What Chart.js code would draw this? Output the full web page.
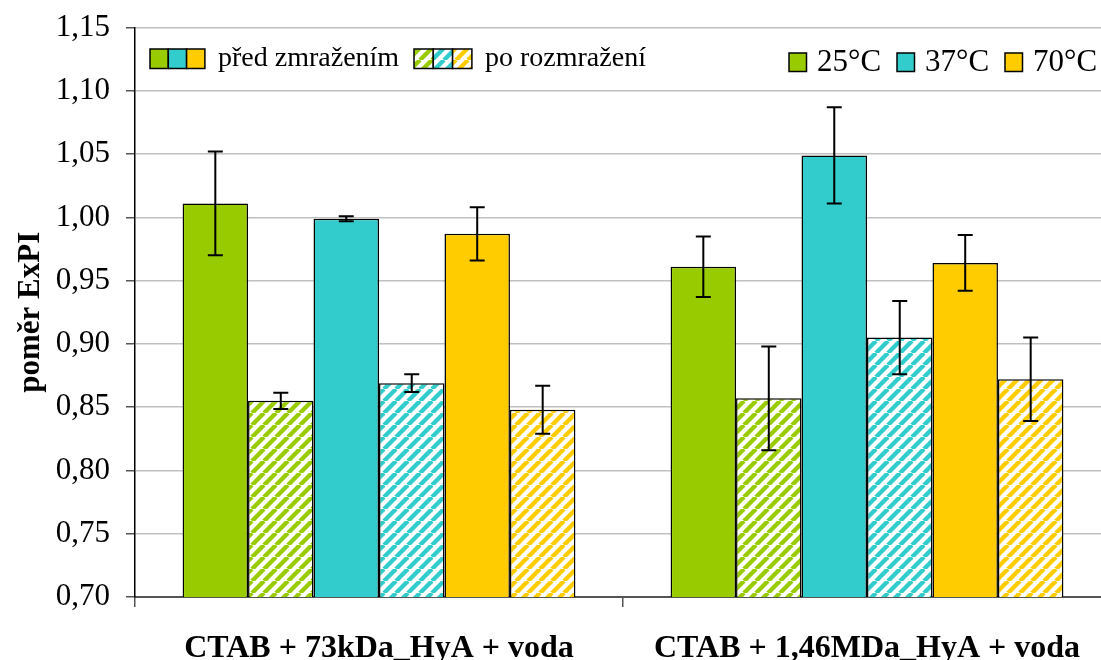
<!DOCTYPE html>
<html>
<head>
<meta charset="utf-8">
<script src="https://cdn.jsdelivr.net/npm/chart.js@4"></script>
<style>
  html, body { margin: 0; padding: 0; background: #fff; overflow: hidden; }
  #wrap { width: 1112px; height: 667px; margin-top: -7px; }
</style>
</head>
<body>
<div id="wrap"><canvas id="chart"></canvas></div>
<script>
// data
const categories = ['CTAB + 73kDa_HyA + voda', 'CTAB + 1,46MDa_HyA + voda'];
const temps = ['25°C', '37°C', '70°C'];
const before25 = [1.011, 0.961];
const after25 = [0.855, 0.857];
const before37 = [0.999, 1.049];
const after37 = [0.869, 0.905];
const before70 = [0.987, 0.964];
const after70 = [0.848, 0.872];
const errBefore25 = [0.041, 0.024];
const errAfter25 = [0.0065, 0.041];
const errBefore37 = [0.002, 0.038];
const errAfter37 = [0.007, 0.029];
const errBefore70 = [0.021, 0.022];
const errAfter70 = [0.019, 0.033];
const legendBefore = 'před zmražením';
const legendAfter = 'po rozmražení';

const GREEN = '#99cc00', CYAN = '#33cccc', YELLOW = '#ffcc00';
const FONT = '"Liberation Serif", "Times New Roman", serif';
const SHIFT = 7; // canvas is pulled up by this much

function hatch(color) {
    const s = 12;
    const c = document.createElement('canvas');
    c.width = s; c.height = s;
    const x = c.getContext('2d');
    x.fillStyle = '#fff';
    x.fillRect(0, 0, s, s);
    x.strokeStyle = color;
    x.lineWidth = 4.4;
    for (const k of [-s, 0, s]) {
        x.beginPath();
        x.moveTo(k, s);
        x.lineTo(k + s, 0);
        x.stroke();
    }
    return x.createPattern(c, 'repeat');
}

const hG = hatch(GREEN), hC = hatch(CYAN), hY = hatch(YELLOW);

function ds(data, err, fill) {
    return {
        data: data,
        err: err,
        backgroundColor: fill,
        borderColor: '#000',
        borderWidth: 1.5,
        borderSkipped: false,
        categoryPercentage: 0.805,
        barPercentage: 1.0
    };
}

const errorBars = {
    id: 'errorBars',
    afterDatasetsDraw(chart) {
        const ctx = chart.ctx;
        const y = chart.scales.y;
        ctx.save();
        ctx.strokeStyle = '#000';
        ctx.lineWidth = 2;
        chart.data.datasets.forEach((d, i) => {
            chart.getDatasetMeta(i).data.forEach((bar, j) => {
                const v = d.data[j], e = d.err[j];
                const top = y.getPixelForValue(v + e);
                const bot = y.getPixelForValue(v - e);
                ctx.beginPath();
                ctx.moveTo(bar.x, top); ctx.lineTo(bar.x, bot);
                ctx.moveTo(bar.x - 7.5, top); ctx.lineTo(bar.x + 7.5, top);
                ctx.moveTo(bar.x - 7.5, bot); ctx.lineTo(bar.x + 7.5, bot);
                ctx.stroke();
            });
        });
        ctx.restore();
    }
};

const legendDraw = {
    id: 'legendDraw',
    afterDraw(chart) {
        const ctx = chart.ctx;
        ctx.save();
        ctx.translate(0, SHIFT);
        ctx.textBaseline = 'middle';
        ctx.lineWidth = 1.5;
        ctx.strokeStyle = '#000';
        const box = (x, yy, w, h, fill) => {
            ctx.fillStyle = fill;
            ctx.fillRect(x, yy, w, h);
            ctx.strokeRect(x, yy, w, h);
        };
        // before / after groups
        [GREEN, CYAN, YELLOW].forEach((c, i) => box(150 + i * 18.3, 49, 18.3, 19.5, c));
        [hG, hC, hY].forEach((c, i) => box(414 + i * 19.3, 49, 19.3, 19.5, c));
        ctx.fillStyle = '#000';
        ctx.font = '28px ' + FONT;
        ctx.fillText(legendBefore, 218, 59);
        ctx.fillText(legendAfter, 485, 59);
        // temperatures
        ctx.font = '31px ' + FONT;
        const tx = [789, 897, 1005];
        [GREEN, CYAN, YELLOW].forEach((c, i) => {
            box(tx[i], 53, 17.5, 18.5, c);
            ctx.fillStyle = '#000';
            ctx.fillText(temps[i], tx[i] + 28, 63);
        });
        ctx.restore();
    }
};

new Chart(document.getElementById('chart'), {
    type: 'bar',
    data: {
        labels: categories,
        datasets: [
            ds(before25, errBefore25, GREEN),
            ds(after25, errAfter25, hG),
            ds(before37, errBefore37, CYAN),
            ds(after37, errAfter37, hC),
            ds(before70, errBefore70, YELLOW),
            ds(after70, errAfter70, hY)
        ]
    },
    options: {
        responsive: true,
        maintainAspectRatio: false,
        animation: false,
        layout: { padding: { top: 20, right: 1, left: 0, bottom: 0 } },
        plugins: { legend: { display: false }, tooltip: { enabled: false } },
        scales: {
            x: {
                grid: { offset: true, drawOnChartArea: false, tickLength: 10, color: '#555', lineWidth: 1.5 },
                border: { color: '#555', width: 2 },
                ticks: { color: '#000', font: { family: FONT, size: 32, weight: 'bold' }, padding: 23 },
                afterFit(s) { s.height = 63; }
            },
            y: {
                min: 0.70,
                max: 1.15,
                ticks: {
                    stepSize: 0.05,
                    color: '#000',
                    padding: 16,
                    font: { family: FONT, size: 31 },
                    callback: v => v.toFixed(2).replace('.', ',')
                },
                grid: { color: '#c0c0c0', lineWidth: 1.5, tickLength: 9, tickColor: '#555' },
                border: { color: '#000', width: 1.5 },
                title: { display: true, text: 'poměr ExPI', color: '#000', font: { family: FONT, size: 31, weight: 'bold' }, padding: { top: 12, bottom: 0 } },
                afterFit(s) { s.width = 135; }
            }
        }
    },
    plugins: [errorBars, legendDraw]
});
</script>
</body>
</html>
